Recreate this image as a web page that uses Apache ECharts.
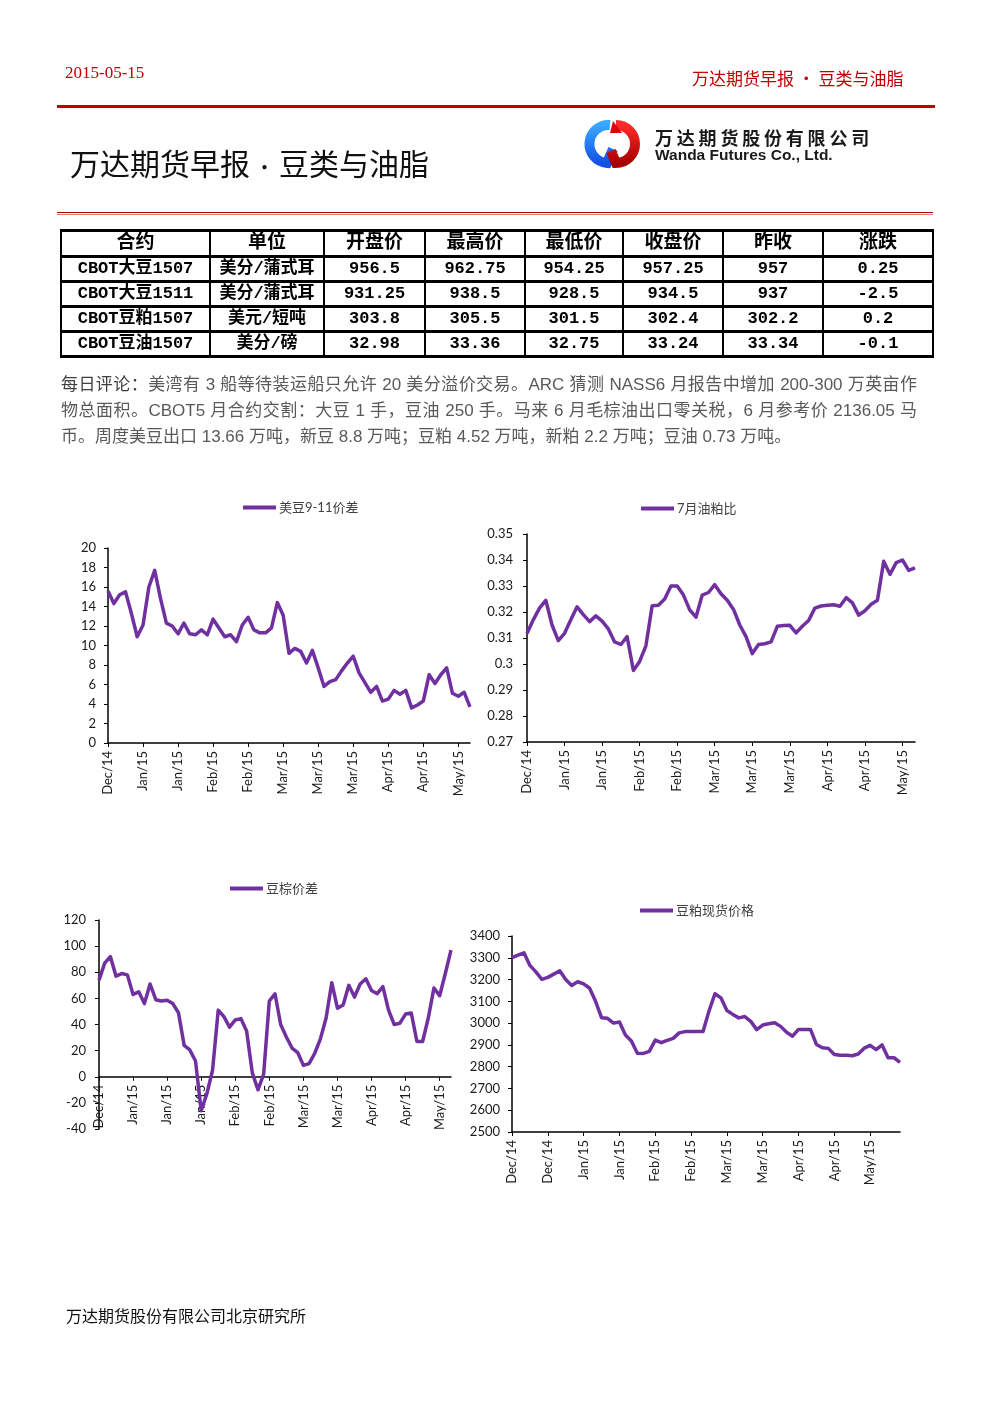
<!DOCTYPE html>
<html>
<head>
<meta charset="utf-8">
<script src="https://cdn.jsdelivr.net/npm/echarts@6/dist/echarts.min.js"></script>
<style>
  body { margin: 0; background: #fff; }
  #page { position: relative; width: 992px; height: 1403px; overflow: hidden; background: #fff; }
  #chart { position: absolute; left: 0; top: 0; width: 992px; height: 1403px; }
  .abs { position: absolute; white-space: nowrap; z-index: 2; }
  .cn { font-family: "Noto Sans CJK SC", sans-serif; }
  #quote { position: absolute; left: 60px; top: 229px; z-index: 2; border-collapse: collapse; table-layout: fixed; }
  #quote td { border-left: 2px solid #000; border-right: 2px solid #000; border-top: 3px solid #000; border-bottom: 3px solid #000;
    height: 22px; padding: 0; text-align: center; font-weight: bold; font-size: 17px; line-height: 22px;
    font-family: "Liberation Mono", "Noto Sans CJK SC", monospace; color: #000; white-space: nowrap; overflow: hidden; }
  #quote tr.head td { font-size: 19px; height: 23px; line-height: 23px; }
  .para { position: absolute; left: 61px; width: 856px; font-size: 17px; line-height: 26px; color: #595959;
    font-family: "Liberation Sans", "Noto Sans CJK SC", sans-serif; z-index: 2; white-space: nowrap; }
  .just { text-align: justify; text-align-last: justify; }
</style>
</head>
<body>
<div id="page">
  <div id="chart"></div>

  <div class="abs" style="left:65px;top:63px;font:17px 'Liberation Serif',serif;color:#c00000;">2015-05-15</div>
  <div class="abs cn" style="left:692px;top:65px;font-size:17px;color:#c00000;">万达期货早报 • 豆类与油脂</div>
  <div class="abs" style="left:57px;top:105px;width:878px;height:3px;background:#c00000;"></div>

  <div class="abs cn" style="left:70px;top:140px;font-size:30px;color:#111;">万达期货早报<span style="font-size:20px;"> • </span>豆类与油脂</div>

  <svg class="abs" style="left:580px;top:119px;" width="66" height="52" viewBox="0 0 66 52">
    <defs>
      <linearGradient id="gb" x1="0" y1="0" x2="0" y2="1">
        <stop offset="0" stop-color="#39a8ff"/><stop offset="1" stop-color="#1450e6"/>
      </linearGradient>
      <linearGradient id="gr" x1="0" y1="0" x2="0" y2="1">
        <stop offset="0" stop-color="#ff2a2a"/><stop offset="1" stop-color="#a80000"/>
      </linearGradient>
    </defs>
    <path d="M30 6 A19 19 0 0 0 27 44 L33 30" fill="none" stroke="url(#gb)" stroke-width="10" stroke-linejoin="miter"/>
    <path d="M36 6 A19 19 0 0 1 36 44 L31 32" fill="none" stroke="url(#gr)" stroke-width="10" stroke-linejoin="miter"/>
    <path d="M33 2 L42 14 L30 14 Z" fill="#e00000"/>
  </svg>
  <div class="abs cn" style="left:655px;top:124px;font-size:18px;font-weight:bold;color:#1a1a1a;letter-spacing:3.8px;">万达期货股份有限公司</div>
  <div class="abs" style="left:655px;top:146px;font:bold 15.5px 'Liberation Sans',sans-serif;color:#1a1a1a;">Wanda Futures Co., Ltd.</div>

  <div class="abs" style="left:57px;top:212px;width:876px;height:1px;background:#b00000;"></div>
  <div class="abs" style="left:57px;top:214px;width:876px;height:1px;background:#e08080;"></div>

  <table id="quote"></table>

  <div class="para just" style="top:372px;"><span style="color:#404040;">每日评论：</span>美湾有 3 船等待装运船只允许 20 美分溢价交易。ARC 猜测 NASS6 月报告中增加 200-300 万英亩作</div>
  <div class="para just" style="top:398px;">物总面积。CBOT5 月合约交割：大豆 1 手，豆油 250 手。马来 6 月毛棕油出口零关税，6 月参考价 2136.05 马</div>
  <div class="para" style="top:424px;">币。周度美豆出口 13.66 万吨，新豆 8.8 万吨；豆粕 4.52 万吨，新粕 2.2 万吨；豆油 0.73 万吨。</div>

  <div class="abs cn" style="left:66px;top:1303px;font-size:16px;color:#111;">万达期货股份有限公司北京研究所</div>
</div>

<script>
// quote table
const colNames = ['合约', '单位', '开盘价', '最高价', '最低价', '收盘价', '昨收', '涨跌']
const colWidths = [149, 114, 101, 100, 98, 100, 100, 110]
const contracts = ['CBOT大豆1507', 'CBOT大豆1511', 'CBOT豆粕1507', 'CBOT豆油1507']
const units = ['美分/蒲式耳', '美分/蒲式耳', '美元/短吨', '美分/磅']
const openPx = ['956.5', '931.25', '303.8', '32.98']
const highPx = ['962.75', '938.5', '305.5', '33.36']
const lowPx = ['954.25', '928.5', '301.5', '32.75']
const closePx = ['957.25', '934.5', '302.4', '33.24']
const prevClose = ['957', '937', '302.2', '33.34']
const change = ['0.25', '-2.5', '0.2', '-0.1']

// chart data (STEP points between two date labels)
const STEP = 6
const spreadLabels = ['Dec/14', 'Jan/15', 'Jan/15', 'Feb/15', 'Feb/15', 'Mar/15', 'Mar/15', 'Mar/15', 'Apr/15', 'Apr/15', 'May/15']
const spread911 = [15.6, 14.3, 15.2, 15.5, 13.3, 10.9, 12.1, 16.0, 17.7, 14.8,
  12.3, 12.0, 11.2, 12.3, 11.2, 11.1, 11.6, 11.1, 12.7, 11.8,
  10.9, 11.1, 10.4, 12.1, 12.9, 11.6, 11.3, 11.3, 11.8, 14.4,
  13.1, 9.2, 9.7, 9.4, 8.2, 9.5, 7.7, 5.8, 6.3, 6.5,
  7.4, 8.2, 8.9, 7.2, 6.2, 5.2, 5.8, 4.3, 4.5, 5.4,
  5.0, 5.4, 3.6, 3.9, 4.3, 7.0, 6.1, 7.0, 7.7, 5.1,
  4.8, 5.2, 3.7]

const ratioLabels = ['Dec/14', 'Jan/15', 'Jan/15', 'Feb/15', 'Feb/15', 'Mar/15', 'Mar/15', 'Mar/15', 'Apr/15', 'Apr/15', 'May/15']
const oilMealRatio = [0.3117, 0.317, 0.3215, 0.3245, 0.315, 0.309, 0.3118, 0.317, 0.322, 0.319,
  0.3163, 0.3185, 0.3165, 0.3135, 0.3085, 0.3075, 0.3105, 0.2975, 0.301, 0.307,
  0.3224, 0.3226, 0.325, 0.330, 0.330, 0.3265, 0.3208, 0.318, 0.3265, 0.3275,
  0.3305, 0.327, 0.3245, 0.321, 0.315, 0.3105, 0.304, 0.3075, 0.3078, 0.3085,
  0.3145, 0.3148, 0.3149, 0.312, 0.3145, 0.3167, 0.3215, 0.3223, 0.3226, 0.3228,
  0.3222, 0.3255, 0.3235, 0.3188, 0.3205, 0.323, 0.3245, 0.3395, 0.3345, 0.339,
  0.340, 0.336, 0.337]

const palmLabels = ['Dec/14', 'Jan/15', 'Jan/15', 'Jan/15', 'Feb/15', 'Feb/15', 'Mar/15', 'Mar/15', 'Apr/15', 'Apr/15', 'May/15']
const soyPalmSpread = [74, 87, 92, 77, 79, 78, 63, 65, 56, 71,
  59, 58, 58.5, 56, 49, 24, 20.5, 12, -26, -13,
  5, 51, 46, 38, 43.5, 44.5, 35, 3, -10, 2,
  58, 63.5, 40, 30.4, 22, 18.5, 8.7, 10, 18, 29,
  45, 72, 52.5, 55, 70, 61, 71, 75, 66, 63.6,
  69, 51, 40, 41, 48, 48.8, 27, 27, 45, 68,
  62, 79, 97]

const mealLabels = ['Dec/14', 'Dec/14', 'Jan/15', 'Jan/15', 'Feb/15', 'Feb/15', 'Mar/15', 'Mar/15', 'Apr/15', 'Apr/15', 'May/15']
const mealSpot = [3301, 3312, 3323, 3265, 3235, 3201, 3210, 3225, 3240, 3200,
  3173, 3190, 3180, 3160, 3100, 3025, 3022, 3000, 3005, 2945,
  2918, 2862, 2861, 2870, 2922, 2910, 2921, 2930, 2955, 2961,
  2961, 2961, 2961, 3055, 3135, 3116, 3058, 3040, 3024, 3030,
  3008, 2970, 2991, 2997, 3002, 2985, 2958, 2940, 2971, 2971,
  2971, 2902, 2887, 2884, 2856, 2852, 2852, 2850, 2858, 2885,
  2898, 2878, 2900, 2841, 2841, 2820]

// build table
const tbl = document.getElementById('quote')
let html = '<colgroup>' + colWidths.map(w => '<col style="width:' + w + 'px">').join('') + '</colgroup>'
html += '<tr class="head">' + colNames.map(c => '<td>' + c + '</td>').join('') + '</tr>'
contracts.forEach((c, i) => {
  const cells = [c, units[i], openPx[i], highPx[i], lowPx[i], closePx[i], prevClose[i], change[i]]
  html += '<tr>' + cells.map(v => '<td>' + v + '</td>').join('') + '</tr>'
})
tbl.innerHTML = html

const PURPLE = '#7030a0'
const FONT = 'Lato, "Noto Sans CJK SC", sans-serif'

function buildCats(labels, n) {
  const cats = []
  for (let i = 0; i < n; i++) {
    cats.push(i % STEP === 0 && labels[i / STEP] ? labels[i / STEP] : '')
  }
  return cats
}

// offset < 0 lifts the whole axis (line, ticks, labels) up to the zero line
function xAxisOf(idx, labels, n, offset) {
  return {
    type: 'category',
    gridIndex: idx,
    boundaryGap: false,
    offset: offset || 0,
    data: buildCats(labels, n),
    axisLine: { onZero: false, lineStyle: { color: '#000', width: 1.5 } },
    axisTick: { show: true, interval: STEP - 1, length: 4, lineStyle: { color: '#000', width: 1 } },
    axisLabel: { interval: STEP - 1, rotate: 90, margin: 8, fontSize: 13, color: '#1a1a1a', fontFamily: FONT },
    splitLine: { show: false }
  }
}

function yAxisOf(idx, min, max, interval, margin) {
  return {
    type: 'value',
    gridIndex: idx,
    min: min,
    max: max,
    interval: interval,
    axisLine: { show: true, lineStyle: { color: '#000', width: 1.5 } },
    axisTick: { show: true, length: 4, lineStyle: { color: '#000', width: 1 } },
    axisLabel: { margin: margin, fontSize: 13, color: '#1a1a1a', fontFamily: FONT, formatter: v => String(+v.toFixed(4)) },
    splitLine: { show: false }
  }
}

function legendOf(name, left, top) {
  return {
    data: [name],
    left: left,
    top: top,
    padding: 0,
    icon: 'rect',
    itemWidth: 33,
    itemHeight: 4,
    textStyle: { fontSize: 13, color: '#404040', fontFamily: FONT, padding: [0, 0, 0, -2] }
  }
}

function seriesOf(idx, name, data) {
  return {
    name: name,
    type: 'line',
    xAxisIndex: idx,
    yAxisIndex: idx,
    data: data,
    showSymbol: false,
    symbol: 'none',
    lineStyle: { color: PURPLE, width: 3.5, join: 'round' },
    itemStyle: { color: PURPLE },
    animation: false
  }
}

const palmGrid = { left: 99, top: 920, width: 352, height: 209 }
const palmMin = -40, palmMax = 120
// distance from the grid bottom up to the value 0
const palmZeroLift = palmGrid.height * (0 - palmMin) / (palmMax - palmMin)

const chart = echarts.init(document.getElementById('chart'))
chart.setOption({
  backgroundColor: 'transparent',
  animation: false,
  legend: [
    legendOf('美豆9-11价差', 243, 501),
    legendOf('7月油粕比', 641, 502),
    legendOf('豆棕价差', 230, 882),
    legendOf('豆粕现货价格', 640, 904)
  ],
  grid: [
    { left: 108, top: 548, width: 362, height: 195 },
    { left: 527, top: 534, width: 388, height: 208 },
    palmGrid,
    { left: 512, top: 936, width: 388, height: 196 }
  ],
  xAxis: [
    xAxisOf(0, spreadLabels, spread911.length),
    xAxisOf(1, ratioLabels, oilMealRatio.length),
    xAxisOf(2, palmLabels, soyPalmSpread.length, -palmZeroLift),
    xAxisOf(3, mealLabels, mealSpot.length)
  ],
  yAxis: [
    yAxisOf(0, 0, 20, 2, 12),
    yAxisOf(1, 0.27, 0.35, 0.01, 14),
    yAxisOf(2, palmMin, palmMax, 20, 13),
    yAxisOf(3, 2500, 3400, 100, 12)
  ],
  series: [
    seriesOf(0, '美豆9-11价差', spread911),
    seriesOf(1, '7月油粕比', oilMealRatio),
    seriesOf(2, '豆棕价差', soyPalmSpread),
    seriesOf(3, '豆粕现货价格', mealSpot)
  ]
})
</script>
</body>
</html>
